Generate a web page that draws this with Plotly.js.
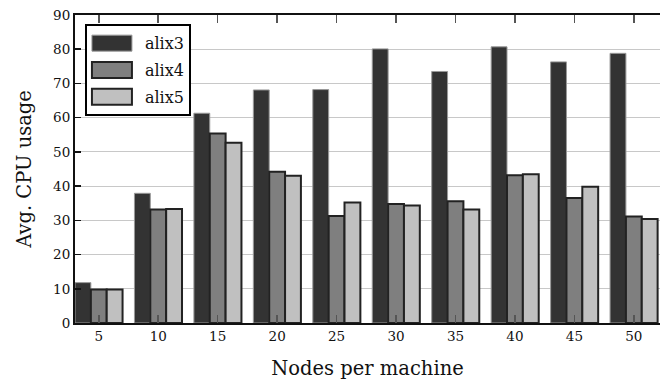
<!DOCTYPE html>
<html><head><meta charset="utf-8">
<script src="https://cdn.plot.ly/plotly-3.0.1.min.js"></script>
<style>body{margin:0;background:#fff}#c{width:660px;height:385px}</style>
</head><body><div id="c"></div>
<script>
const nodes = [5, 10, 15, 20, 25, 30, 35, 40, 45, 50];
const alix3 = [11.8, 37.9, 61.3, 68.1, 68.2, 80.1, 73.5, 80.7, 76.3, 78.8];
const alix4 = [9.8, 33.2, 55.4, 44.2, 31.3, 34.8, 35.6, 43.2, 36.5, 31.1];
const alix5 = [9.8, 33.3, 52.7, 43.0, 35.2, 34.3, 33.2, 43.5, 39.8, 30.4];
const yTicks = [0, 10, 20, 30, 40, 50, 60, 70, 80, 90];

const FONT = "'DejaVu Serif', 'Liberation Serif', serif";
const traces = [
  {type:'bar', name:'alix3', legendgroup:'a3', x:nodes, y:alix3, marker:{color:'#333333', line:{color:'#999999', width:1}}},
  {type:'bar', name:'alix4', legendgroup:'a4', x:nodes, y:alix4, marker:{color:'#7f7f7f', line:{color:'#222222', width:2}}},
  {type:'bar', name:'alix5', legendgroup:'a5', x:nodes, y:alix5, marker:{color:'#c0c0c0', line:{color:'#222222', width:2}}}
];
const layout = {
  width:660, height:385,
  margin:{l:75, r:0, t:15, b:62},
  paper_bgcolor:'#fff', plot_bgcolor:'#fff',
  font:{family:FONT, color:'#111', size:13},
  barmode:'group', bargap:0.2, bargroupgap:0,
  xaxis:{range:[3, 52.2], tickvals:nodes, ticktext:nodes.map(String),
    ticks:'inside', ticklen:8, tickcolor:'#555', tickwidth:1.5,
    showline:true, linecolor:'#111', linewidth:2, mirror:'ticks',
    showgrid:false, zeroline:false,
    tickfont:{size:13.5, family:FONT},
    title:{text:'Nodes per machine', font:{size:19.5, family:FONT}, standoff:18}},
  yaxis:{range:[0, 90], tickvals:yTicks, ticktext:yTicks.map(String),
    ticks:'inside', ticklen:6, tickcolor:'#111', tickwidth:1.5,
    showline:true, linecolor:'#111', linewidth:2,
    showgrid:true, gridcolor:'#c8c8c8', gridwidth:1, zeroline:false,
    tickfont:{size:13.5, family:FONT},
    title:{text:'Avg. CPU usage', font:{size:19.5, family:FONT}, standoff:16}},
  legend:{x:0.017, y:0.97, xanchor:'left', yanchor:'top',
    bgcolor:'#fff', bordercolor:'#000', borderwidth:2,
    font:{size:16, family:FONT, color:'#111'}, itemwidth:48,
    traceorder:'grouped', tracegroupgap:3},
  showlegend:true
};
Plotly.newPlot('c', traces, layout, {displayModeBar:false, staticPlot:true}).then(() => {
  document.querySelectorAll('.legend .legendpoints path').forEach(p => {
    p.setAttribute('d', 'M-24,-8H16V8H-24Z');
  });
});
</script></body></html>
